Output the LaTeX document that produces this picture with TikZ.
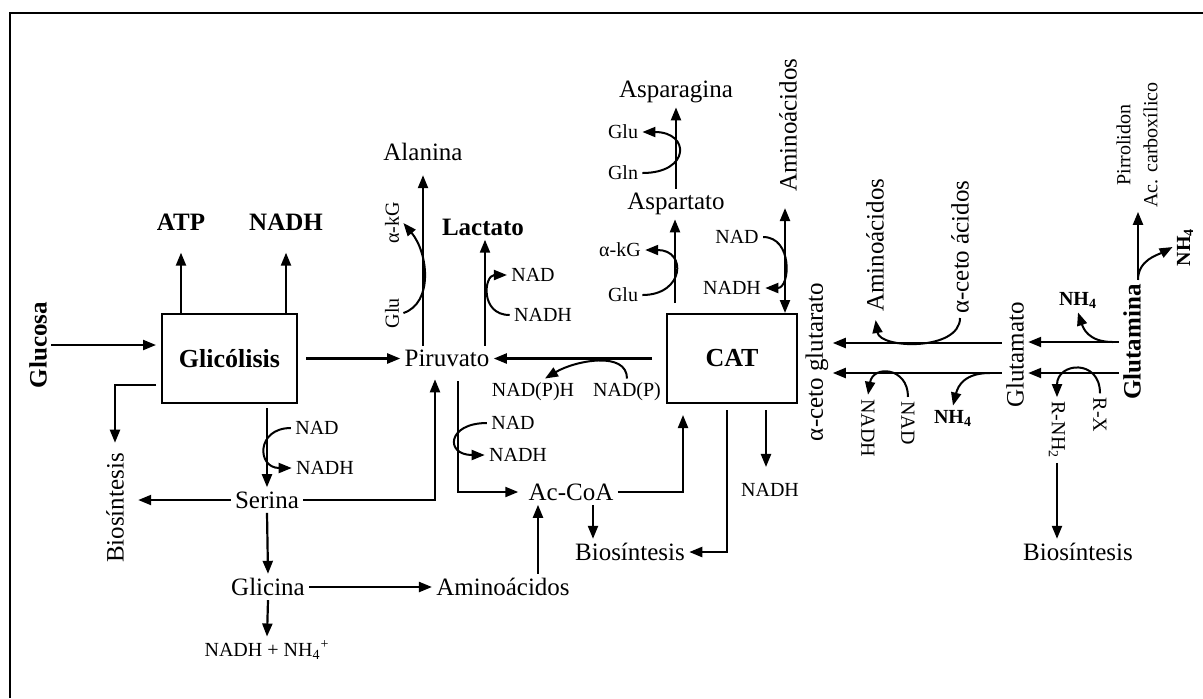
\documentclass[tikz,border=0pt]{standalone}
\usepackage{fontspec}
\setmainfont{Liberation Serif}
\usetikzlibrary{arrows.meta}

\begin{document}
\begin{tikzpicture}[
  x=0.5pt, y=-0.5pt,
  every node/.style = {inner sep=2pt},
  lbl/.style = {font=\fontsize{12.5}{14}\selectfont},
  blbl/.style = {font=\fontsize{12.5}{14}\selectfont\bfseries},
  sml/.style = {font=\fontsize{10}{11}\selectfont},
  bsml/.style = {font=\fontsize{10}{11}\selectfont\bfseries},
  proc/.style = {draw, line width=1pt, font=\fontsize{13}{15}\selectfont\bfseries, minimum height=44.5pt},
  arr/.style = {->, line width=1.1pt},
  cofarrow/.style = {->, line width=1pt},
  >={Triangle[length=6.5pt,width=5pt]}
]
  \useasboundingbox (0,0) rectangle (1203,698);
  \draw[line width=1.2pt] (10,698) -- (10,13) -- (1203,13);

  \node[proc, minimum width=67.5pt] (glic) at (229.5,358.5) {Glicólisis};
  \node[proc, minimum width=65pt] (cat) at (732,358.5) {CAT};

  \node[blbl, rotate=90] (glucosa) at (38,345) {Glucosa};
  \node[blbl] (atp) at (181,222) {ATP};
  \node[blbl] (nadhG) at (286,222) {NADH};
  \node[lbl] (piruvato) at (447,358.5) {Piruvato};
  \node[lbl] (alanina) at (423,152) {Alanina};
  \node[blbl] (lactato) at (483,227) {Lactato};
  \node[lbl] (serina) at (267,500) {Serina};
  \node[lbl] (glicina) at (268,587) {Glicina};
  \node[lbl, rotate=90] (biosA) at (115,508) {Biosíntesis};
  \node[lbl] (acoa) at (571,492) {Ac-CoA};
  \node[lbl] (aminoA) at (503,587) {Aminoácidos};
  \node[lbl] (biosB) at (630,552) {Biosíntesis};
  \node[lbl] (aspartato) at (676,204) {Aspartato};
  \node[lbl] (asparagina) at (676,92) {Asparagina};
  \node[lbl, rotate=90] (aminoB) at (788,125) {Aminoácidos};
  \node[lbl, rotate=90] (akg) at (817,362) {α-ceto glutarato};
  \node[lbl, rotate=90] (aminoC) at (875,245) {Aminoácidos};
  \node[lbl, rotate=90] (aceto) at (960,247) {α-ceto ácidos};
  \node[lbl, rotate=90] (glutamato) at (1015,355) {Glutamato};
  \node[blbl, rotate=90] (glutamina) at (1132,342) {Glutamina};
  \node[lbl] (biosC) at (1078,552) {Biosíntesis};
  \node[sml, font=\fontsize{10}{13.5}\selectfont, rotate=90, align=center] (pirr) at (1137,145) {Pirrolidon\\Ac. carboxílico};

  \node[sml] (nadA) at (317,428) {NAD};
  \node[sml] (nadhA) at (325,468) {NADH};
  \node[sml] (nadhnh) at (267,650) {NADH + NH\textsubscript{4}\textsuperscript{+}};
  \node[sml, rotate=90] (akgA) at (392,223) {α-kG};
  \node[sml, rotate=90] (gluA) at (392,313) {Glu};
  \node[sml] (nadB) at (533,275) {NAD};
  \node[sml] (nadhB) at (543,315) {NADH};
  \node[sml] (nadph) at (533,392) {NAD(P)H};
  \node[sml] (nadp) at (627,392) {NAD(P)};
  \node[sml] (nadC) at (513,423) {NAD};
  \node[sml] (nadhC) at (518,455) {NADH};
  \node[sml] (gluB) at (623,132) {Glu};
  \node[sml] (gln) at (623,173) {Gln};
  \node[sml] (akgB) at (620,250) {α-kG};
  \node[sml] (gluC) at (623,295) {Glu};
  \node[sml] (nadD) at (737,237) {NAD};
  \node[sml] (nadhD) at (732,288) {NADH};
  \node[sml] (nadhE) at (770,490) {NADH};
  \node[sml, rotate=-90] (nadE) at (908,423) {NAD};
  \node[sml, rotate=-90] (nadhF) at (868,428) {NADH};
  \node[bsml] (nhA) at (953,418) {NH\textsubscript{4}};
  \node[bsml] (nhB) at (1078,300) {NH\textsubscript{4}};
  \node[bsml, rotate=90] (nhC) at (1185,247) {NH\textsubscript{4}};
  \node[sml, rotate=-90] (rx) at (1100,415) {R-X};
  \node[sml, rotate=-90] (rnh) at (1057,430) {R-NH\textsubscript{2}};

  \draw[arr, shorten >=2.5pt] (glucosa.south) -- (glucosa.south -| glic.west);
  \draw[arr, shorten >=9pt] (glic.north -| atp) -- (atp.south);
  \draw[arr, shorten >=9pt] (glic.north -| nadhG) -- (nadhG.south);
  \draw[arr] ([xshift=4pt]glic.east) -- (piruvato.west);
  \draw[arr, shorten >=3pt] ([shift={(-2.5pt,9.5pt)}]glic.south west) -| (biosA.east);
  \draw[arr, shorten <=2pt] (glic.south -| serina) -- (serina.north);
  \draw[cofarrow] (nadA.west) .. controls +(-35,0) and +(-35,0) .. (nadhA.west);
  \draw[arr, shorten >=5pt] (serina.west) -- (serina.west -| biosA.south);
  \draw[arr] (serina.east) -| ([shift={(-6pt,-4pt)}]piruvato.south);
  \draw[arr] (serina.south) -- (glicina.north);
  \draw[arr] (glicina.south) -- (nadhnh.north);
  \draw[arr] (glicina.east) -- (aminoA.west);
  \draw[arr] ([xshift=17.5pt]aminoA.north) -- ([xshift=17.5pt]aminoA.north |- acoa.south);

  \draw[arr] ([shift={(5.5pt,-5pt)}]piruvato.south) |- ([xshift=-3pt]acoa.west);
  \draw[cofarrow] (nadC.west) .. controls +(-40,0) and +(-40,0) .. (nadhC.west);
  \draw[arr] (acoa.east) -| ([shift={(-24.5pt,-5.5pt)}]cat.south);
  \draw[arr] ([xshift=11pt]acoa.south) -- ([xshift=11pt]acoa.south |- biosB.north);
  \draw[arr] ([shift={(-2.5pt,-3pt)}]cat.south) |- (biosB.east);
  \draw[arr, shorten >=6pt] ([shift={(17pt,-3pt)}]cat.south) -- ([xshift=17pt]cat.south |- nadhE.north);
  \draw[arr] ([xshift=-7pt]cat.west) -- (piruvato.east);
  \draw[cofarrow] (nadp.north) .. controls +(0,-28) and +(30,-18) .. ([xshift=6pt]nadph.north);

  \draw[arr, shorten >=5pt] ([xshift=-12pt]piruvato.north) -- ([xshift=-12pt]piruvato.north |- alanina.south);
  \draw[cofarrow] (gluA.south) .. controls +(30,-10) and +(25,30) .. (akgA.south);
  \draw[arr] ([xshift=19pt]piruvato.north) -- ([xshift=19pt]piruvato.north |- lactato.south);
  \draw[cofarrow] (nadhB.west) .. controls +(-30,0) and +(-23,0) .. (nadB.west);

  \draw[arr] ([shift={(-28.5pt,5pt)}]cat.north) -- ([xshift=-28.5pt]cat.north |- aspartato.south);
  \draw[cofarrow] (gluC.east) .. controls +(42,0) and +(42,0) .. (akgB.east);
  \draw[arr] (aspartato.north) -- (asparagina.south);
  \draw[cofarrow] (gln.east) .. controls +(48,0) and +(48,0) .. (gluB.east);
  \draw[arr, <->, shorten >=6pt] ([xshift=26.5pt]cat.north) -- ([xshift=26.5pt]cat.north |- aminoB.west);
  \draw[cofarrow] (nadD.east) .. controls +(30,0) and +(25,0) .. (nadhD.east);

  \draw[arr] ([yshift=6pt]glutamato.north) -- ([yshift=6pt]glutamato.north -| akg.south);
  \draw[arr] ([yshift=-9pt]glutamato.north) -- ([yshift=-9pt]glutamato.north -| akg.south);
  \draw[cofarrow, shorten >=2pt] (aceto.west) .. controls +(0,33) and +(5,33) .. (aminoC.west);
  \draw[cofarrow] (nadE.west) .. controls +(0,-30) and +(5,-30) .. (nadhF.west);
  \draw[cofarrow] ([shift={(-6pt,-9pt)}]glutamato.north) .. controls +(-25,0) and +(5,-20) .. (nhA.north);

  \draw[arr] (glutamina.north) -- (glutamina.north -| glutamato.south);
  \draw[arr] ([yshift=-15.5pt]glutamina.north) -- ([yshift=-15.5pt]glutamina.north -| glutamato.south);
  \draw[cofarrow] ([xshift=-3pt]glutamina.north) .. controls +(-25,0) and +(5,15) .. (nhB.south);
  \draw[cofarrow] (rx.west) .. controls +(0,-35) and +(0,-35) .. (rnh.west);
  \draw[arr] (rnh.east) -- (rnh.east |- biosC.north);
  \draw[arr] ([xshift=3pt]glutamina.east) -- ([xshift=3pt]glutamina.east |- pirr.west);
  \draw[cofarrow] ([xshift=3pt]glutamina.east) .. controls +(0,-20) and +(-15,8) .. (nhC.north);
\end{tikzpicture}
\end{document}
